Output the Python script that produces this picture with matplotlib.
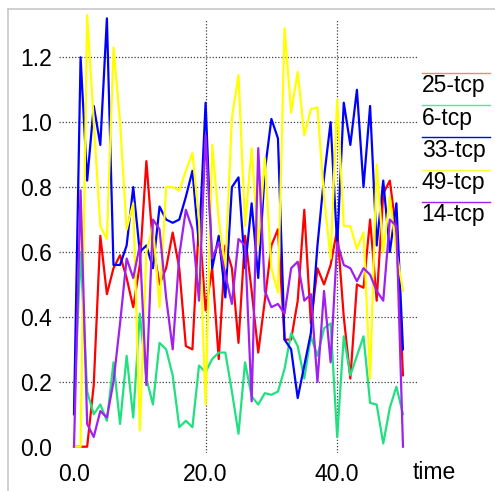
import numpy as np
import matplotlib
matplotlib.use("Agg")
import matplotlib.pyplot as plt
from matplotlib.lines import Line2D
from matplotlib.ticker import FormatStrFormatter

plt.rcParams['font.family'] = ['Liberation Sans', 'DejaVu Sans']

time = np.arange(0, 51)

s25_tcp = [0.0, 0.0, 0.0, 0.19, 0.65, 0.47, 0.55, 0.59, 0.52, 0.43,
           0.56, 0.88, 0.62, 0.50, 0.55, 0.66, 0.55, 0.31, 0.30, 0.70,
           0.42, 0.55, 0.27, 0.62, 0.55, 0.32, 0.65, 0.48, 0.29, 0.45,
           0.62, 0.67, 0.33, 0.33, 0.45, 0.73, 0.38, 0.55, 0.50, 0.56,
           0.67, 0.40, 0.21, 0.50, 0.49, 0.70, 0.45, 0.78, 0.82, 0.66,
           0.22]

s6_tcp = [0.12, 0.60, 0.17, 0.10, 0.13, 0.08, 0.26, 0.07, 0.28, 0.09,
          0.41, 0.21, 0.13, 0.32, 0.30, 0.22, 0.06, 0.08, 0.06, 0.25,
          0.23, 0.27, 0.29, 0.29, 0.17, 0.04, 0.26, 0.155, 0.13, 0.165,
          0.16, 0.17, 0.24, 0.35, 0.31, 0.21, 0.34, 0.28, 0.365, 0.38,
          0.03, 0.34, 0.22, 0.28, 0.34, 0.135, 0.13, 0.01, 0.12, 0.185,
          0.10]

s33_tcp = [0.10, 1.20, 0.82, 1.05, 0.93, 1.32, 0.56, 0.56, 0.62, 0.80,
           0.60, 0.62, 0.55, 0.74, 0.70, 0.69, 0.70, 0.77, 0.85, 0.62,
           1.06, 0.55, 0.65, 0.46, 0.80, 0.83, 0.55, 0.75, 0.52, 0.85,
           1.01, 0.95, 0.33, 0.30, 0.15, 0.25, 0.35, 0.62, 0.83, 1.00,
           0.62, 1.06, 0.93, 1.10, 0.80, 1.05, 0.62, 0.82, 0.60, 0.75,
           0.30]

s49_tcp = [0.0, 0.0, 1.33, 1.00, 0.68, 0.64, 1.23, 1.00, 0.67, 0.75,
           0.05, 0.60, 0.68, 0.43, 0.80, 0.80, 0.79, 0.85, 0.905, 0.70,
           0.13, 0.93, 0.70, 0.55, 1.015, 1.145, 0.68, 0.92, 0.62, 0.89,
           0.55, 0.475, 1.29, 1.03, 1.155, 0.96, 1.04, 1.046, 0.77, 0.58,
           1.07, 0.68, 0.68, 0.61, 0.66, 0.21, 0.87, 0.60, 0.77, 0.60,
           0.48]

s14_tcp = [0.0, 0.79, 0.07, 0.03, 0.11, 0.09, 0.20, 0.38, 0.58, 0.52,
           0.62, 0.19, 0.70, 0.67, 0.46, 0.30, 0.59, 0.73, 0.67, 0.45,
           0.96, 0.58, 0.63, 0.53, 0.44, 0.64, 0.62, 0.14, 0.92, 0.48,
           0.43, 0.44, 0.41, 0.55, 0.57, 0.45, 0.47, 0.20, 0.48, 0.26,
           0.63, 0.56, 0.55, 0.51, 0.55, 0.53, 0.48, 0.45, 0.70, 0.68,
           0.0]

labels = ["25-tcp", "6-tcp", "33-tcp", "49-tcp", "14-tcp"]
series = [s25_tcp, s6_tcp, s33_tcp, s49_tcp, s14_tcp]
colors = ["#ff0000", "#20e080", "#0000ff", "#ffff00", "#a020f0"]
legend_colors = ["#ff8080", "#40f0a0", "#0000ff", "#ffff40", "#a020f0"]

W, H = 495, 491
fig = plt.figure(figsize=(W / 100, H / 100), dpi=100)
fig.patch.set_facecolor("white")

ax_l, ax_r, ax_t, ax_b = 59, 417, 19, 453
ax = fig.add_axes([ax_l / W, 1 - ax_b / H, (ax_r - ax_l) / W, (ax_b - ax_t) / H])

for vals, c in zip(series, colors):
    ax.plot(time, vals, color=c, lw=1.6, clip_on=False, zorder=3)

ax.set_xlim(-2.28, 52.13)
ax.set_ylim(-0.0194, 1.318)
ax.set_xticks([0, 20, 40])
ax.set_yticks([0.0, 0.2, 0.4, 0.6, 0.8, 1.0, 1.2])
ax.xaxis.set_major_formatter(FormatStrFormatter('%.1f'))
ax.yaxis.set_major_formatter(FormatStrFormatter('%.1f'))
ax.tick_params(length=0, labelsize=16.5, colors='black')
ax.tick_params(axis='y', pad=5)
ax.tick_params(axis='x', pad=7)
for s in ax.spines.values():
    s.set_visible(False)
ax.grid(True, linestyle=(0, (1, 1.5)), color='0.25', lw=0.9, zorder=1)
ax.xaxis.get_gridlines()[0].set_visible(False)
ax.yaxis.get_gridlines()[0].set_visible(False)

ax.set_xlabel("time", fontsize=16.5)
ax.xaxis.set_label_coords((434.5 - ax_l) / (ax_r - ax_l), (ax_b - 461) / (ax_b - ax_t))

# legend: line above each label
y0 = 72.7
dy = 32.3
for i, (lab, c) in enumerate(zip(labels, legend_colors)):
    yl = y0 + i * dy
    fig.add_artist(Line2D([421.7 / W, 490 / W], [1 - yl / H, 1 - yl / H],
                          color=c, lw=1.0))
    fig.text(421.7 / W, 1 - (yl + 1.5) / H, lab, fontsize=16.5, ha='left', va='top')

# window frame (top and left)
fig.add_artist(Line2D([8 / W, 1], [1 - 9 / H, 1 - 9 / H], color='#c8c8c8', lw=1.2))
fig.add_artist(Line2D([8 / W, 8 / W], [0, 1 - 9 / H], color='#c8c8c8', lw=1.2))

fig.savefig("out.png", dpi=100, facecolor="white")
